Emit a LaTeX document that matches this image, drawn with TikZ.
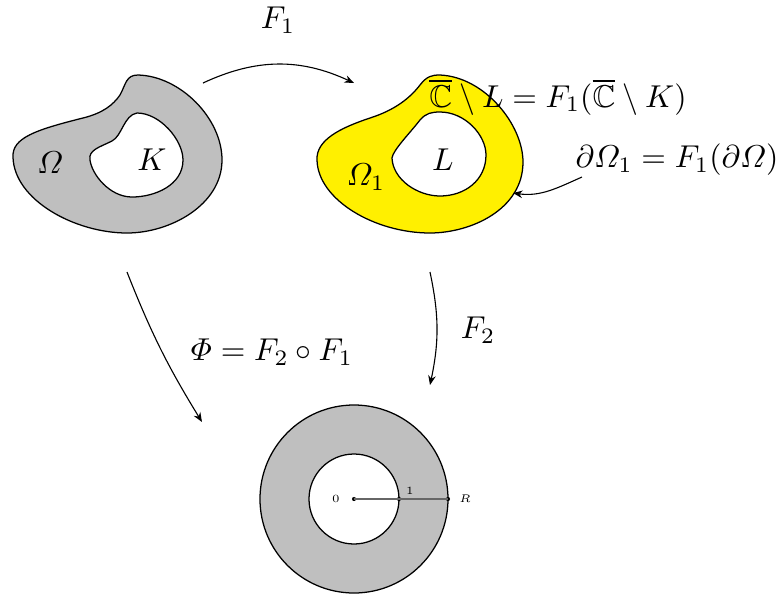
\documentclass[tikz,border=0pt]{standalone}
\usepackage{amsmath}
\usepackage{amssymb}
\usepackage{tikz}
\usetikzlibrary{arrows.meta}
\definecolor{regiongray}{gray}{0.75}
\definecolor{imageyellow}{HTML}{FFF000}
\definecolor{radiusgray}{gray}{0.4}

\begin{document}
\begin{tikzpicture}[
    x=0.01113cm, y=-0.01113cm,
    region/.style  = {draw=black, line width=0.4pt},
    hole/.style    = {draw=black, fill=white, line width=0.4pt},
    map/.style     = {-{Stealth[length=3pt,width=2.4pt]}, line width=0.35pt},
    lbl/.style     = {inner sep=0pt},
    small/.style   = {inner sep=0pt, font=\tiny, scale=0.7},
    dot/.style     = {circle, fill=black, inner sep=0pt, minimum size=1.3pt}
  ]
  \useasboundingbox (0,0) rectangle (780,594);

  % ── Domain Omega with compact K ──────────────────────────────────────────
  \filldraw[region, fill=regiongray]
    (13,157) .. controls (12,138) and (35,130) .. (83,118)
    .. controls (103,113) and (113,105) .. (120,95)
    .. controls (126,84) and (126,75) .. (138,75)
    .. controls (180,76) and (222,118) .. (222,160)
    .. controls (222,205) and (170,233) .. (127,233)
    .. controls (75,233) and (14,200) .. (13,157) -- cycle;
  \filldraw[hole]
    (90,160) .. controls (88,150) and (100,147) .. (112,141)
    .. controls (122,136) and (124,115) .. (137,113)
    .. controls (160,113) and (183,140) .. (183,160)
    .. controls (183,185) and (155,197) .. (132,197)
    .. controls (110,197) and (92,175) .. (90,160) -- cycle;
  \node[lbl] (omega) at (50,163) {$\varOmega$};
  \node[lbl] (compK) at (152,160) {$K$};

  % ── Image domain Omega_1 with L ──────────────────────────────────────────
  \filldraw[region, fill=imageyellow]
    (317,160) .. controls (316,140) and (340,128) .. (370,118)
    .. controls (395,110) and (410,98) .. (420,85)
    .. controls (427,76) and (432,75) .. (440,75)
    .. controls (485,77) and (523,125) .. (523,162)
    .. controls (523,210) and (470,233) .. (430,233)
    .. controls (375,233) and (318,200) .. (317,160) -- cycle;
  \filldraw[hole]
    (392,158) .. controls (393,150) and (410,133) .. (420,120)
    .. controls (426,113) and (432,112) .. (440,112)
    .. controls (465,112) and (486,135) .. (486,155)
    .. controls (486,180) and (465,196) .. (440,196)
    .. controls (418,196) and (393,180) .. (392,158) -- cycle;
  \node[lbl] (omega1) at (366,177) {$\varOmega_1$};
  \node[lbl] (compL)  at (443,160) {$L$};

  % ── Annulus ──────────────────────────────────────────────────────────────
  \filldraw[region, fill=regiongray] (354,499) circle[x radius=94, y radius=94];
  \filldraw[hole] (354,499) circle[x radius=45, y radius=45];
  \node[dot] (c0) at (354,499) {};
  \node[dot] (c1) at (399,499) {};
  \node[dot] (cR) at (448,499) {};
  \draw[radiusgray, line width=0.6pt] (c0.center) -- (cR.center);
  \node[small] (lbl0) at (336,499) {$0$};
  \node[small] (lbl1) at (410,491) {$1$};
  \node[small] (lblR) at (465,499) {$R$};

  % ── Maps ─────────────────────────────────────────────────────────────────
  \coordinate (f1s) at (203,83);   \coordinate (f1e) at (354,83);
  \coordinate (f2s) at (430,272);  \coordinate (f2e) at (430,385);
  \coordinate (phs) at (127,272);  \coordinate (phe) at (202,422);
  \coordinate (bds) at (582,177);  \coordinate (bde) at (513,193);

  \draw[map] (f1s) to[bend left=25] (f1e);
  \draw[map] (f2s) to[bend left=12] (f2e);
  \draw[map] (phs) to[bend right=5] (phe);
  \draw[map] (bds) to[out=204, in=-8] (bde);

  \node[lbl] (lblF1)  at (278,20)  {$F_1$};
  \node[lbl] (lblF2)  at (478,330) {$F_2$};
  \node[lbl] (lblPhi) at (272,352) {$\varPhi = F_2 \circ F_1$};
  \node[lbl] (lblCL)  at (558,97)
    {$\overline{\mathbb{C}} \setminus L = F_1(\overline{\mathbb{C}} \setminus K)$};
  \node[lbl] (lblBd)  at (677,160) {$\partial\varOmega_1 = F_1(\partial\varOmega)$};

\end{tikzpicture}
\end{document}
